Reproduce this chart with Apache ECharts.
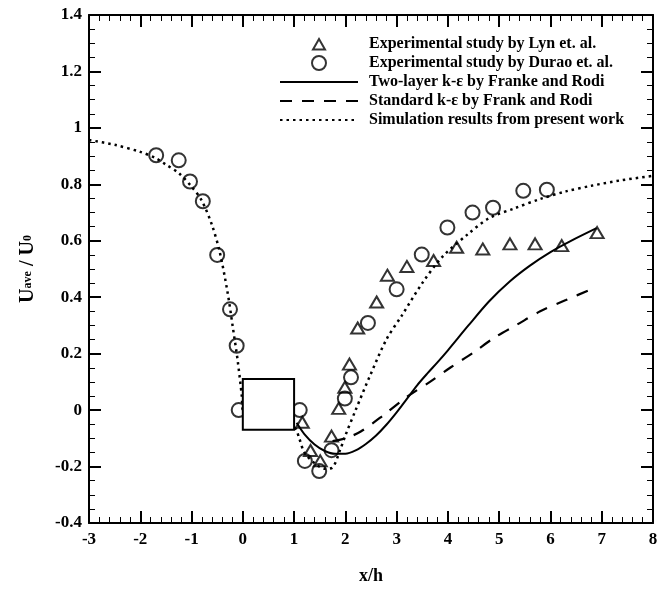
<!DOCTYPE html>
<html>
<head>
<meta charset="utf-8">
<script src="https://cdn.jsdelivr.net/npm/echarts@6/dist/echarts.min.js"></script>
<style>html,body{margin:0;padding:0;background:#fff;}#c{width:672px;height:590px;}</style>
</head>
<body>
<div id="c"></div>
<script>
// Experimental study by Lyn et. al. (x/h, U_ave/U0)
var lynData = [
  [1.16,-0.043],[1.32,-0.143],[1.51,-0.18],[1.73,-0.092],[1.87,0.006],[1.99,0.081],[2.08,0.163],
  [2.24,0.291],[2.61,0.383],[2.82,0.478],[3.20,0.509],[3.72,0.530],[4.17,0.577],[4.68,0.571],
  [5.21,0.589],[5.70,0.589],[6.22,0.583],[6.91,0.629]
];
// Experimental study by Durao et. al.
var duraoData = [
  [-1.69,0.903],[-1.25,0.885],[-1.03,0.81],[-0.78,0.74],[-0.50,0.55],[-0.25,0.357],[-0.12,0.228],
  [-0.08,0.0],[1.11,0.0],[1.21,-0.18],[1.49,-0.216],[1.73,-0.142],[1.99,0.041],[2.11,0.116],
  [2.44,0.309],[3.00,0.428],[3.49,0.551],[3.99,0.647],[4.48,0.700],[4.88,0.717],[5.47,0.777],[5.93,0.781]
];
// Two-layer k-e by Franke and Rodi
var twoLayerData = [
  [1.05,-0.045],[1.2,-0.085],[1.4,-0.122],[1.6,-0.145],[1.8,-0.155],[2.0,-0.155],[2.2,-0.143],
  [2.4,-0.12],[2.6,-0.09],[2.8,-0.052],[3.0,-0.008],[3.2,0.04],[3.4,0.088],[3.6,0.13],[3.8,0.17],
  [4.0,0.212],[4.4,0.3],[4.8,0.385],[5.2,0.455],[5.6,0.512],[6.0,0.56],[6.4,0.6],[6.9,0.645]
];
// Standard k-e by Frank and Rodi
var standardData = [
  [1.75,-0.11],[2.0,-0.1],[2.3,-0.076],[2.75,-0.017],[3.2,0.047],[3.65,0.1],[4.05,0.151],
  [4.5,0.204],[4.9,0.256],[5.35,0.303],[5.8,0.35],[6.3,0.39],[6.85,0.432]
];
// Simulation results from present work
var simData = [
  [-3,0.957],[-2.5,0.94],[-2,0.915],[-1.7,0.893],[-1.5,0.87],[-1.25,0.84],[-1.0,0.792],[-0.8,0.742],
  [-0.6,0.655],[-0.45,0.56],[-0.3,0.42],[-0.2,0.3],[-0.1,0.175],[-0.02,0.05],[0,0.0],[0.5,-0.04],
  [1.0,-0.06],[1.1,-0.1],[1.2,-0.15],[1.4,-0.188],[1.6,-0.208],[1.75,-0.203],[1.9,-0.14],[2.0,-0.09],
  [2.2,0.0],[2.5,0.13],[2.8,0.25],[3.1,0.335],[3.5,0.45],[3.9,0.545],[4.4,0.625],[4.8,0.68],
  [5.3,0.715],[5.8,0.748],[6.3,0.775],[6.8,0.795],[7.4,0.815],[8,0.83]
];
// square cylinder obstacle: [xmin, ymin, xmax, ymax]
var obstacle = [[0,-0.07,1,0.11]];
var xTicks = {min:-3, max:8, interval:1};
var yTicks = {min:-0.4, max:1.4, interval:0.2};
var seriesNames = [
  'Experimental study by Lyn et. al.',
  'Experimental study by Durao et. al.',
  'Two-layer k-\u03b5 by Franke and Rodi',
  'Standard k-\u03b5 by Frank and Rodi',
  'Simulation results from present work'
];

var FONT = '"Liberation Serif","DejaVu Serif",serif';
var chart = echarts.init(document.getElementById('c'), null, {renderer:'canvas'});

function axisCommon(extra){
  var a = {
    axisLine:{show:true, onZero:false, lineStyle:{color:'#000', width:2}},
    axisTick:{show:true, inside:true, length:12, lineStyle:{color:'#000', width:2}},
    splitLine:{show:false},
    minorSplitLine:{show:false}
  };
  for (var k in extra) a[k] = extra[k];
  return a;
}

var noSymbol = {color:'rgba(0,0,0,0)', borderColor:'rgba(0,0,0,0)', borderWidth:0};
var triIcon = 'path://M0,0 M14,14 M1,12.5 L7,2 L13,12.5 Z';

var option = {
  backgroundColor:'#fff',
  animation:false,
  grid:{left:89, right:19, top:15, bottom:61, containLabel:false},
  legend:{
    orient:'vertical', left:279, top:36, padding:0,
    itemWidth:78, itemHeight:14, itemGap:3,
    data:[
      {name:seriesNames[0], icon:triIcon},
      {name:seriesNames[1]},
      {name:seriesNames[2], itemStyle:noSymbol},
      {name:seriesNames[3], itemStyle:noSymbol},
      {name:seriesNames[4], itemStyle:noSymbol}
    ],
    symbolKeepAspect:true,
    textStyle:{fontFamily:FONT, fontWeight:'bold', fontSize:16, color:'#000', padding:[0,0,0,6], lineHeight:16},
    selectedMode:false
  },
  xAxis:[
    axisCommon({type:'value', position:'bottom', min:xTicks.min, max:xTicks.max, interval:xTicks.interval,
      minorTick:{show:true, splitNumber:5, length:6, lineStyle:{color:'#000', width:1}},
      axisLabel:{color:'#000', fontFamily:FONT, fontWeight:'bold', fontSize:17, margin:8},
      name:'x/h', nameLocation:'middle', nameGap:44,
      nameTextStyle:{color:'#000', fontFamily:FONT, fontWeight:'bold', fontSize:18}}),
    axisCommon({type:'value', position:'top', min:xTicks.min, max:xTicks.max, interval:xTicks.interval,
      minorTick:{show:true, splitNumber:5, length:6, lineStyle:{color:'#000', width:1}},
      axisLabel:{show:false}})
  ],
  yAxis:[
    axisCommon({type:'value', position:'left', min:yTicks.min, max:yTicks.max, interval:yTicks.interval,
      minorTick:{show:true, splitNumber:4, length:6, lineStyle:{color:'#000', width:1}},
      axisLabel:{color:'#000', fontFamily:FONT, fontWeight:'bold', fontSize:17, margin:7},
      name:'{a|U}{s|ave}{a| / U}{s|0}', nameLocation:'middle', nameGap:49, nameRotate:90,
      nameTextStyle:{color:'#000', fontFamily:FONT, fontWeight:'bold', fontSize:20,
        rich:{
          a:{fontFamily:FONT, fontWeight:'bold', fontSize:20, color:'#000', height:24, verticalAlign:'top', lineHeight:24},
          s:{fontFamily:FONT, fontWeight:'bold', fontSize:12, color:'#000', height:24, verticalAlign:'bottom', lineHeight:24, padding:[8,0,0,0]}
        }}}),
    axisCommon({type:'value', position:'right', min:yTicks.min, max:yTicks.max, interval:yTicks.interval,
      minorTick:{show:true, splitNumber:4, length:6, lineStyle:{color:'#000', width:1}},
      axisLabel:{show:false}})
  ],
  series:[
    {name:seriesNames[4], type:'line', data:simData, symbol:'none', smooth:0.3, z:2,
      lineStyle:{color:'#000', width:2.5, type:[2.5,4], cap:'butt'}, itemStyle:{color:'#000'}},
    {name:seriesNames[2], type:'line', data:twoLayerData, symbol:'none', smooth:0.3, z:2,
      lineStyle:{color:'#000', width:2}, itemStyle:{color:'#000'}},
    {name:seriesNames[3], type:'line', data:standardData, symbol:'none', smooth:0.3, z:2,
      lineStyle:{color:'#000', width:2.2, type:[12,10]}, itemStyle:{color:'#000'}},
    {name:seriesNames[0], type:'scatter', data:lynData, symbol:'triangle', symbolSize:[13,11], z:3,
      itemStyle:{color:'rgba(0,0,0,0)', borderColor:'#000', borderWidth:2}},
    {name:seriesNames[1], type:'scatter', data:duraoData, symbol:'circle', symbolSize:14, z:3,
      itemStyle:{color:'rgba(0,0,0,0)', borderColor:'#000', borderWidth:2}},
    {name:'obstacle', type:'custom', data:obstacle, z:10, silent:true,
      encode:{x:[0,2], y:[1,3]},
      renderItem:function(params, api){
        var p1 = api.coord([api.value(0), api.value(3)]);
        var p2 = api.coord([api.value(2), api.value(1)]);
        return {type:'rect', shape:{x:p1[0], y:p1[1], width:p2[0]-p1[0], height:p2[1]-p1[1]},
          style:{fill:'#fff', stroke:'#000', lineWidth:2}};
      }}
  ]
};
chart.setOption(option);
</script>
</body>
</html>
